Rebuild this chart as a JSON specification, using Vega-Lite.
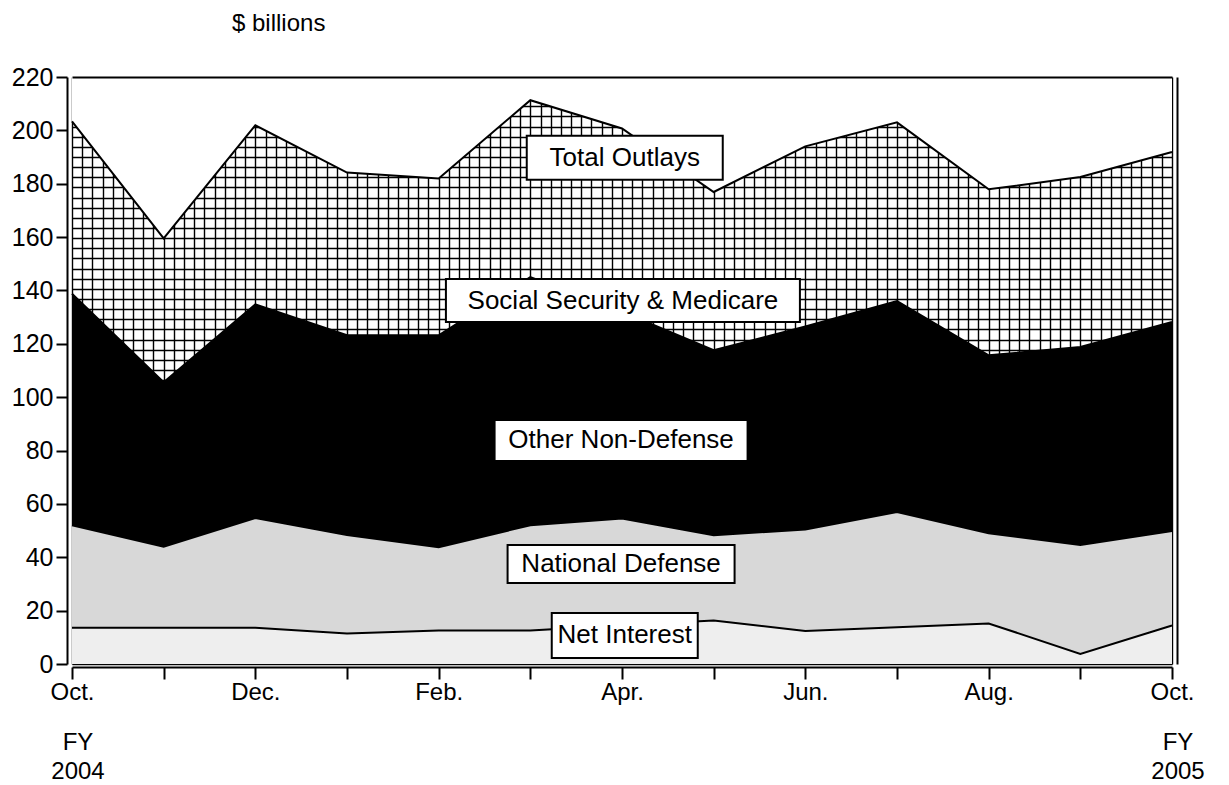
{
  "$schema": "https://vega.github.io/schema/vega-lite/v6.json",
  "width": 1100,
  "height": 587,
  "autosize": "none",
  "padding": {"left": 72, "top": 77, "right": 57, "bottom": 121},
  "background": "white",
  "config": {"view": {"stroke": null}, "font": "Liberation Sans", "axis": {"title": null}},
  "title": {"text": "$ billions", "anchor": "start", "frame": "group", "dx": 160, "offset": 10, "baseline": "alphabetic", "fontSize": 24, "fontWeight": "normal", "font": "Liberation Sans", "color": "black"},
  "data": {"values": [
    {"t": 0, "month": "2003-10", "Net Interest": 13.6, "National Defense": 38.4, "Other Non-Defense": 86.8, "Social Security & Medicare": 64.6},
    {"t": 1, "month": "2003-11", "Net Interest": 13.6, "National Defense": 30.4, "Other Non-Defense": 61.6, "Social Security & Medicare": 53.9},
    {"t": 2, "month": "2003-12", "Net Interest": 13.6, "National Defense": 41.1, "Other Non-Defense": 80.1, "Social Security & Medicare": 67.1},
    {"t": 3, "month": "2004-01", "Net Interest": 11.4, "National Defense": 36.9, "Other Non-Defense": 74.9, "Social Security & Medicare": 61.0},
    {"t": 4, "month": "2004-02", "Net Interest": 12.6, "National Defense": 31.2, "Other Non-Defense": 79.4, "Social Security & Medicare": 58.8},
    {"t": 5, "month": "2004-03", "Net Interest": 12.6, "National Defense": 39.4, "Other Non-Defense": 93.0, "Social Security & Medicare": 66.3},
    {"t": 6, "month": "2004-04", "Net Interest": 14.5, "National Defense": 40.0, "Other Non-Defense": 77.5, "Social Security & Medicare": 68.7},
    {"t": 7, "month": "2004-05", "Net Interest": 16.3, "National Defense": 32.0, "Other Non-Defense": 69.3, "Social Security & Medicare": 59.3},
    {"t": 8, "month": "2004-06", "Net Interest": 12.4, "National Defense": 38.0, "Other Non-Defense": 76.1, "Social Security & Medicare": 67.5},
    {"t": 9, "month": "2004-07", "Net Interest": 13.8, "National Defense": 43.2, "Other Non-Defense": 79.0, "Social Security & Medicare": 67.0},
    {"t": 10, "month": "2004-08", "Net Interest": 15.2, "National Defense": 33.8, "Other Non-Defense": 66.7, "Social Security & Medicare": 62.2},
    {"t": 11, "month": "2004-09", "Net Interest": 3.8, "National Defense": 40.8, "Other Non-Defense": 74.2, "Social Security & Medicare": 63.7},
    {"t": 12, "month": "2004-10", "Net Interest": 14.4, "National Defense": 35.4, "Other Non-Defense": 78.4, "Social Security & Medicare": 63.7}
  ]},
  "layer": [
    {
      "mark": {"type": "point", "opacity": 0},
      "encoding": {
        "x": {"field": "t", "type": "quantitative", "scale": {"domain": [0, 12], "nice": false, "zero": false},
              "axis": {"orient": "bottom", "grid": true, "gridColor": "black", "gridWidth": 1.4, "gridOpacity": 1, "labels": false, "ticks": false, "domain": false, "zindex": 0,
                       "values": [0,0.1111,0.2222,0.3333,0.4444,0.5556,0.6667,0.7778,0.8889,1,1.1111,1.2222,1.3333,1.4444,1.5556,1.6667,1.7778,1.8889,2,2.1111,2.2222,2.3333,2.4444,2.5556,2.6667,2.7778,2.8889,3,3.1111,3.2222,3.3333,3.4444,3.5556,3.6667,3.7778,3.8889,4,4.1111,4.2222,4.3333,4.4444,4.5556,4.6667,4.7778,4.8889,5,5.1111,5.2222,5.3333,5.4444,5.5556,5.6667,5.7778,5.8889,6,6.1111,6.2222,6.3333,6.4444,6.5556,6.6667,6.7778,6.8889,7,7.1111,7.2222,7.3333,7.4444,7.5556,7.6667,7.7778,7.8889,8,8.1111,8.2222,8.3333,8.4444,8.5556,8.6667,8.7778,8.8889,9,9.1111,9.2222,9.3333,9.4444,9.5556,9.6667,9.7778,9.8889,10,10.1111,10.2222,10.3333,10.4444,10.5556,10.6667,10.7778,10.8889,11,11.1111,11.2222,11.3333,11.4444,11.5556,11.6667,11.7778,11.8889,12]}},
        "y": {"field": "Net Interest", "type": "quantitative", "scale": {"domain": [0, 220], "nice": false},
              "axis": {"orient": "left", "grid": true, "gridColor": "black", "gridWidth": 1.4, "gridOpacity": 1, "labels": false, "ticks": false, "domain": false, "zindex": 0,
                       "values": [0,3.8,7.6,11.4,15.2,19,22.8,26.6,30.4,34.2,38,41.8,45.6,49.4,53.2,57,60.8,64.6,68.4,72.2,76,79.8,83.6,87.4,91.2,95,98.8,102.6,106.4,110.2,114,117.8,121.6,125.4,129.2,133,136.8,140.6,144.4,148.2,152,155.8,159.6,163.4,167.2,171,174.8,178.6,182.4,186.2,190,193.8,197.6,201.4,205.2,209,212.8,216.6]}}
      }
    },
    {
      "transform": [
        {"fold": ["Net Interest", "National Defense", "Other Non-Defense", "Social Security & Medicare"], "as": ["series", "value"]},
        {"aggregate": [{"op": "sum", "field": "value", "as": "total"}], "groupby": ["t"]}
      ],
      "mark": {"type": "area", "color": "white", "opacity": 1},
      "encoding": {
        "x": {"field": "t", "type": "quantitative", "scale": {"domain": [0, 12], "nice": false, "zero": false}, "axis": null},
        "y": {"field": "total", "type": "quantitative", "scale": {"domain": [0, 220], "nice": false}, "axis": null},
        "y2": {"datum": 220}
      }
    },
    {
      "transform": [
        {"fold": ["Net Interest", "National Defense", "Other Non-Defense", "Social Security & Medicare"], "as": ["series", "value"]},
        {"calculate": "indexof(['Net Interest','National Defense','Other Non-Defense','Social Security & Medicare'], datum.series)", "as": "k"}
      ],
      "mark": {"type": "area", "opacity": 1},
      "encoding": {
        "x": {"field": "t", "type": "quantitative", "scale": {"domain": [0, 12], "nice": false, "zero": false},
              "axis": {"orient": "bottom", "values": [0,1,2,3,4,5,6,7,8,9,10,11,12], "grid": false, "offset": 3, "domainColor": "black", "domainWidth": 2, "tickColor": "black", "tickWidth": 2, "tickSize": 12,
                       "labelFontSize": 24, "labelColor": "black", "labelPadding": 1, "labelOverlap": false, "labelFlush": false, "labelBound": false, "zindex": 1,
                       "labelExpr": "['Oct.','','Dec.','','Feb.','','Apr.','','Jun.','','Aug.','','Oct.'][datum.value]"}},
        "y": {"field": "value", "type": "quantitative", "stack": "zero", "scale": {"domain": [0, 220], "nice": false},
              "axis": {"orient": "left", "values": [0,20,40,60,80,100,120,140,160,180,200,220], "grid": false, "offset": 5, "domainColor": "black", "domainWidth": 2, "tickColor": "black", "tickWidth": 2, "tickSize": 11,
                       "labelFontSize": 25, "labelColor": "black", "labelPadding": 3, "labelFlush": false, "labelOverlap": false, "zindex": 1}},
        "color": {"field": "series", "type": "nominal",
                  "scale": {"domain": ["Net Interest", "National Defense", "Other Non-Defense", "Social Security & Medicare"], "range": ["#eeeeee", "#d8d8d8", "#000000", "rgba(0,0,0,0)"]},
                  "legend": null},
        "order": {"field": "k", "type": "quantitative"}
      }
    },
    {
      "transform": [
        {"fold": ["Net Interest", "National Defense", "Other Non-Defense", "Social Security & Medicare"], "as": ["series", "value"]},
        {"calculate": "indexof(['Net Interest','National Defense','Other Non-Defense','Social Security & Medicare'], datum.series)", "as": "k"}
      ],
      "mark": {"type": "line", "color": "black", "strokeWidth": 2},
      "encoding": {
        "x": {"field": "t", "type": "quantitative", "scale": {"domain": [0, 12], "nice": false, "zero": false}, "axis": null},
        "y": {"field": "value", "type": "quantitative", "stack": "zero", "scale": {"domain": [0, 220], "nice": false}, "axis": null},
        "detail": {"field": "series", "type": "nominal"},
        "order": {"field": "k", "type": "quantitative"}
      }
    },
    {
      "mark": {"type": "point", "opacity": 0},
      "encoding": {
        "x": {"field": "t", "type": "quantitative", "scale": {"domain": [0, 12], "nice": false, "zero": false},
              "axis": {"orient": "top", "grid": false, "labels": false, "ticks": false, "domain": true, "domainColor": "black", "domainWidth": 2, "zindex": 1}},
        "y": {"field": "Net Interest", "type": "quantitative", "scale": {"domain": [0, 220], "nice": false},
              "axis": {"orient": "right", "offset": 5, "grid": false, "labels": false, "ticks": false, "domain": true, "domainColor": "black", "domainWidth": 2, "zindex": 1}}
      }
    },
    {
      "data": {"values": [
        {"label": "FY 2004", "t": 0},
        {"label": "FY 2005", "t": 12}
      ]},
      "mark": {"type": "text", "fontSize": 24, "font": "Liberation Sans", "color": "black", "align": "center", "baseline": "top", "lineBreak": " ", "lineHeight": 29, "dx": 6, "yOffset": 67},
      "encoding": {
        "x": {"field": "t", "type": "quantitative", "scale": {"domain": [0, 12], "nice": false, "zero": false}, "axis": null},
        "y": {"datum": 0, "type": "quantitative", "scale": {"domain": [0, 220], "nice": false}, "axis": null},
        "text": {"field": "label", "type": "nominal"}
      }
    },
    {
      "data": {"values": [
        {"label": "Total Outlays", "t": 6.03, "v": 189.7},
        {"label": "Social Security & Medicare", "t": 6.01, "v": 136.2},
        {"label": "Other Non-Defense", "t": 5.99, "v": 83.8},
        {"label": "National Defense", "t": 5.99, "v": 37.5},
        {"label": "Net Interest", "t": 6.03, "v": 10.7}
      ]},
      "layer": [
        {
          "mark": {"type": "point", "filled": true, "fill": "white", "stroke": "black", "strokeWidth": 2, "opacity": 1, "fillOpacity": 1, "size": 4},
          "encoding": {
            "x": {"field": "t", "type": "quantitative", "scale": {"domain": [0, 12], "nice": false, "zero": false}, "axis": null},
            "y": {"field": "v", "type": "quantitative", "scale": {"domain": [0, 220], "nice": false}, "axis": null},
            "shape": {"field": "label", "type": "nominal",
                      "scale": {"domain": ["Total Outlays", "Social Security & Medicare", "Other Non-Defense", "National Defense", "Net Interest"],
                                "range": ["M-98,-22L98,-22L98,22L-98,22Z", "M-177,-21.5L177,-21.5L177,21.5L-177,21.5Z", "M-126.5,-20.5L126.5,-20.5L126.5,20.5L-126.5,20.5Z", "M-113.5,-19L113.5,-19L113.5,19L-113.5,19Z", "M-73,-22.5L73,-22.5L73,22.5L-73,22.5Z"]},
                      "legend": null}
          }
        },
        {
          "mark": {"type": "text", "fontSize": 26, "font": "Liberation Sans", "color": "black", "align": "center", "baseline": "middle"},
          "encoding": {
            "x": {"field": "t", "type": "quantitative", "scale": {"domain": [0, 12], "nice": false, "zero": false}, "axis": null},
            "y": {"field": "v", "type": "quantitative", "scale": {"domain": [0, 220], "nice": false}, "axis": null},
            "text": {"field": "label", "type": "nominal"}
          }
        }
      ]
    }
  ],
  "resolve": {"axis": {"x": "independent", "y": "independent"}}
}
